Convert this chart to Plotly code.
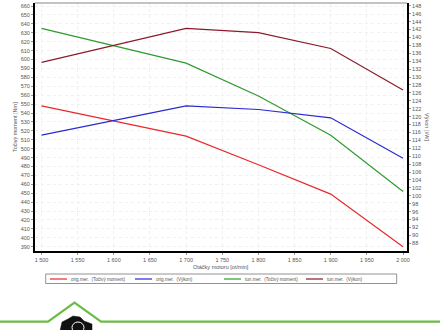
import plotly.graph_objects as go

rpm = [1500, 1700, 1800, 1900, 2000]
orig_torque = [548, 514, 482, 449, 390]
orig_power = [115.3, 122.7, 121.8, 119.7, 109.5]
tun_torque = [635, 596, 559, 515, 452]
tun_power = [133.7, 142.3, 141.2, 137.2, 126.7]

x_ticks = list(range(1500, 2001, 50))
x_labels = [f"{v // 1000} {v % 1000:03d}" for v in x_ticks]
y_ticks = list(range(390, 661, 10))
y2_ticks = list(range(88, 149, 2))

series = [
    ("orig.mer.  (Točivý moment)", orig_torque, "y", "#e8282d"),
    ("orig.mer.  (Výkon)", orig_power, "y2", "#2a2ad0"),
    ("tun.mer.  (Točivý moment)", tun_torque, "y", "#2f9a2f"),
    ("tun.mer.  (Výkon)", tun_power, "y2", "#8b1a2a"),
]

fig = go.Figure()
for name, vals, ax, col in series:
    fig.add_trace(go.Scatter(x=rpm, y=vals, yaxis=ax, mode="lines", name=name,
                             line=dict(color=col, width=1.2), showlegend=False))

font = dict(family="Liberation Sans, Arial, sans-serif", size=5.5, color="#555555")
legend_font = dict(family="Liberation Sans, Arial, sans-serif", size=4.6, color="#555555")

fig.update_layout(
    width=440, height=330,
    margin=dict(l=35, r=33, t=3, b=79),
    paper_bgcolor="white", plot_bgcolor="white",
    font=font,
    xaxis=dict(range=[1491, 2005.5], tickvals=x_ticks, ticktext=x_labels,
               showline=True, linecolor="black", linewidth=2,
               showgrid=True, gridcolor="#f0f0f0", griddash="dot", gridwidth=1,
               ticks="outside", ticklen=2, tickcolor="#999", zeroline=False,
               tickfont=font),
    yaxis=dict(range=[385.2, 663.4], tickvals=y_ticks,
               showline=True, linecolor="black", linewidth=2,
               showgrid=True, gridcolor="#f0f0f0", griddash="dot", gridwidth=1,
               ticks="outside", ticklen=2, tickcolor="#999", zeroline=False,
               tickfont=font),
    yaxis2=dict(range=[86.05, 148.7], tickvals=y2_ticks, overlaying="y", side="right",
                showline=True, linecolor="black", linewidth=2, showgrid=False,
                ticks="outside", ticklen=2, tickcolor="#999", zeroline=False,
                tickfont=font),
)

# top border of the plot frame
fig.add_shape(type="line", xref="paper", yref="paper", x0=0, x1=1, y0=1, y1=1,
              line=dict(color="#888888", width=1))

# axis titles
fig.add_annotation(text="Točivý moment [Nm]", xref="paper", yref="paper",
                   x=-0.04, y=0.5, textangle=-90, showarrow=False,
                   font=font, xanchor="right", yanchor="middle")
fig.add_annotation(text="Výkon [kW]", xref="paper", yref="paper",
                   x=1.04, y=0.5, textangle=90, showarrow=False,
                   font=font, xanchor="left", yanchor="middle")
fig.add_annotation(text="Otáčky motoru [ot/min]", xref="paper", yref="paper",
                   x=0.5, y=-0.045, showarrow=False, font=font,
                   xanchor="center", yanchor="top")


def pxx(x):
    return (x - 35) / 372


def pyy(y):
    return (251 - y) / 248


# legend box below the chart
fig.add_shape(type="rect", xref="paper", yref="paper",
              x0=pxx(45.7), x1=pxx(396.7), y0=pyy(283.5), y1=pyy(274),
              line=dict(color="#777777", width=0.8), fillcolor="white")
starts = [50, 135, 224, 306]
for (name, vals, ax, col), sx in zip(series, starts):
    yl = pyy(279)
    fig.add_shape(type="line", xref="paper", yref="paper",
                  x0=pxx(sx), x1=pxx(sx + 17), y0=yl, y1=yl,
                  line=dict(color=col, width=1.2))
    fig.add_annotation(text=name, xref="paper", yref="paper",
                       x=pxx(sx + 19), y=yl, showarrow=False,
                       font=legend_font, xanchor="left", yanchor="middle")

# footer: green roof line with tractor emblem
roof = (f"M {pxx(0)},{pyy(321.7)} L {pxx(48)},{pyy(321.7)} L {pxx(74.5)},{pyy(302.5)} "
        f"L {pxx(101)},{pyy(321.7)} L {pxx(440)},{pyy(321.7)}")
fig.add_shape(type="path", xref="paper", yref="paper", path=roof,
              line=dict(color="#6cbb45", width=2.2))
tractor = (f"M {pxx(60)},{pyy(331)} L {pxx(62)},{pyy(322)} L {pxx(68)},{pyy(319)} "
           f"L {pxx(73)},{pyy(316)} L {pxx(80)},{pyy(317)} L {pxx(84)},{pyy(321)} "
           f"L {pxx(92)},{pyy(324)} L {pxx(92)},{pyy(331)} Z")
fig.add_shape(type="path", xref="paper", yref="paper", path=tractor,
              line=dict(color="#111111", width=0.5), fillcolor="#111111")
fig.add_shape(type="circle", xref="paper", yref="paper",
              x0=pxx(72), x1=pxx(84), y0=pyy(333), y1=pyy(322),
              line=dict(color="white", width=1), fillcolor="#111111")

fig.write_html("out.html")
